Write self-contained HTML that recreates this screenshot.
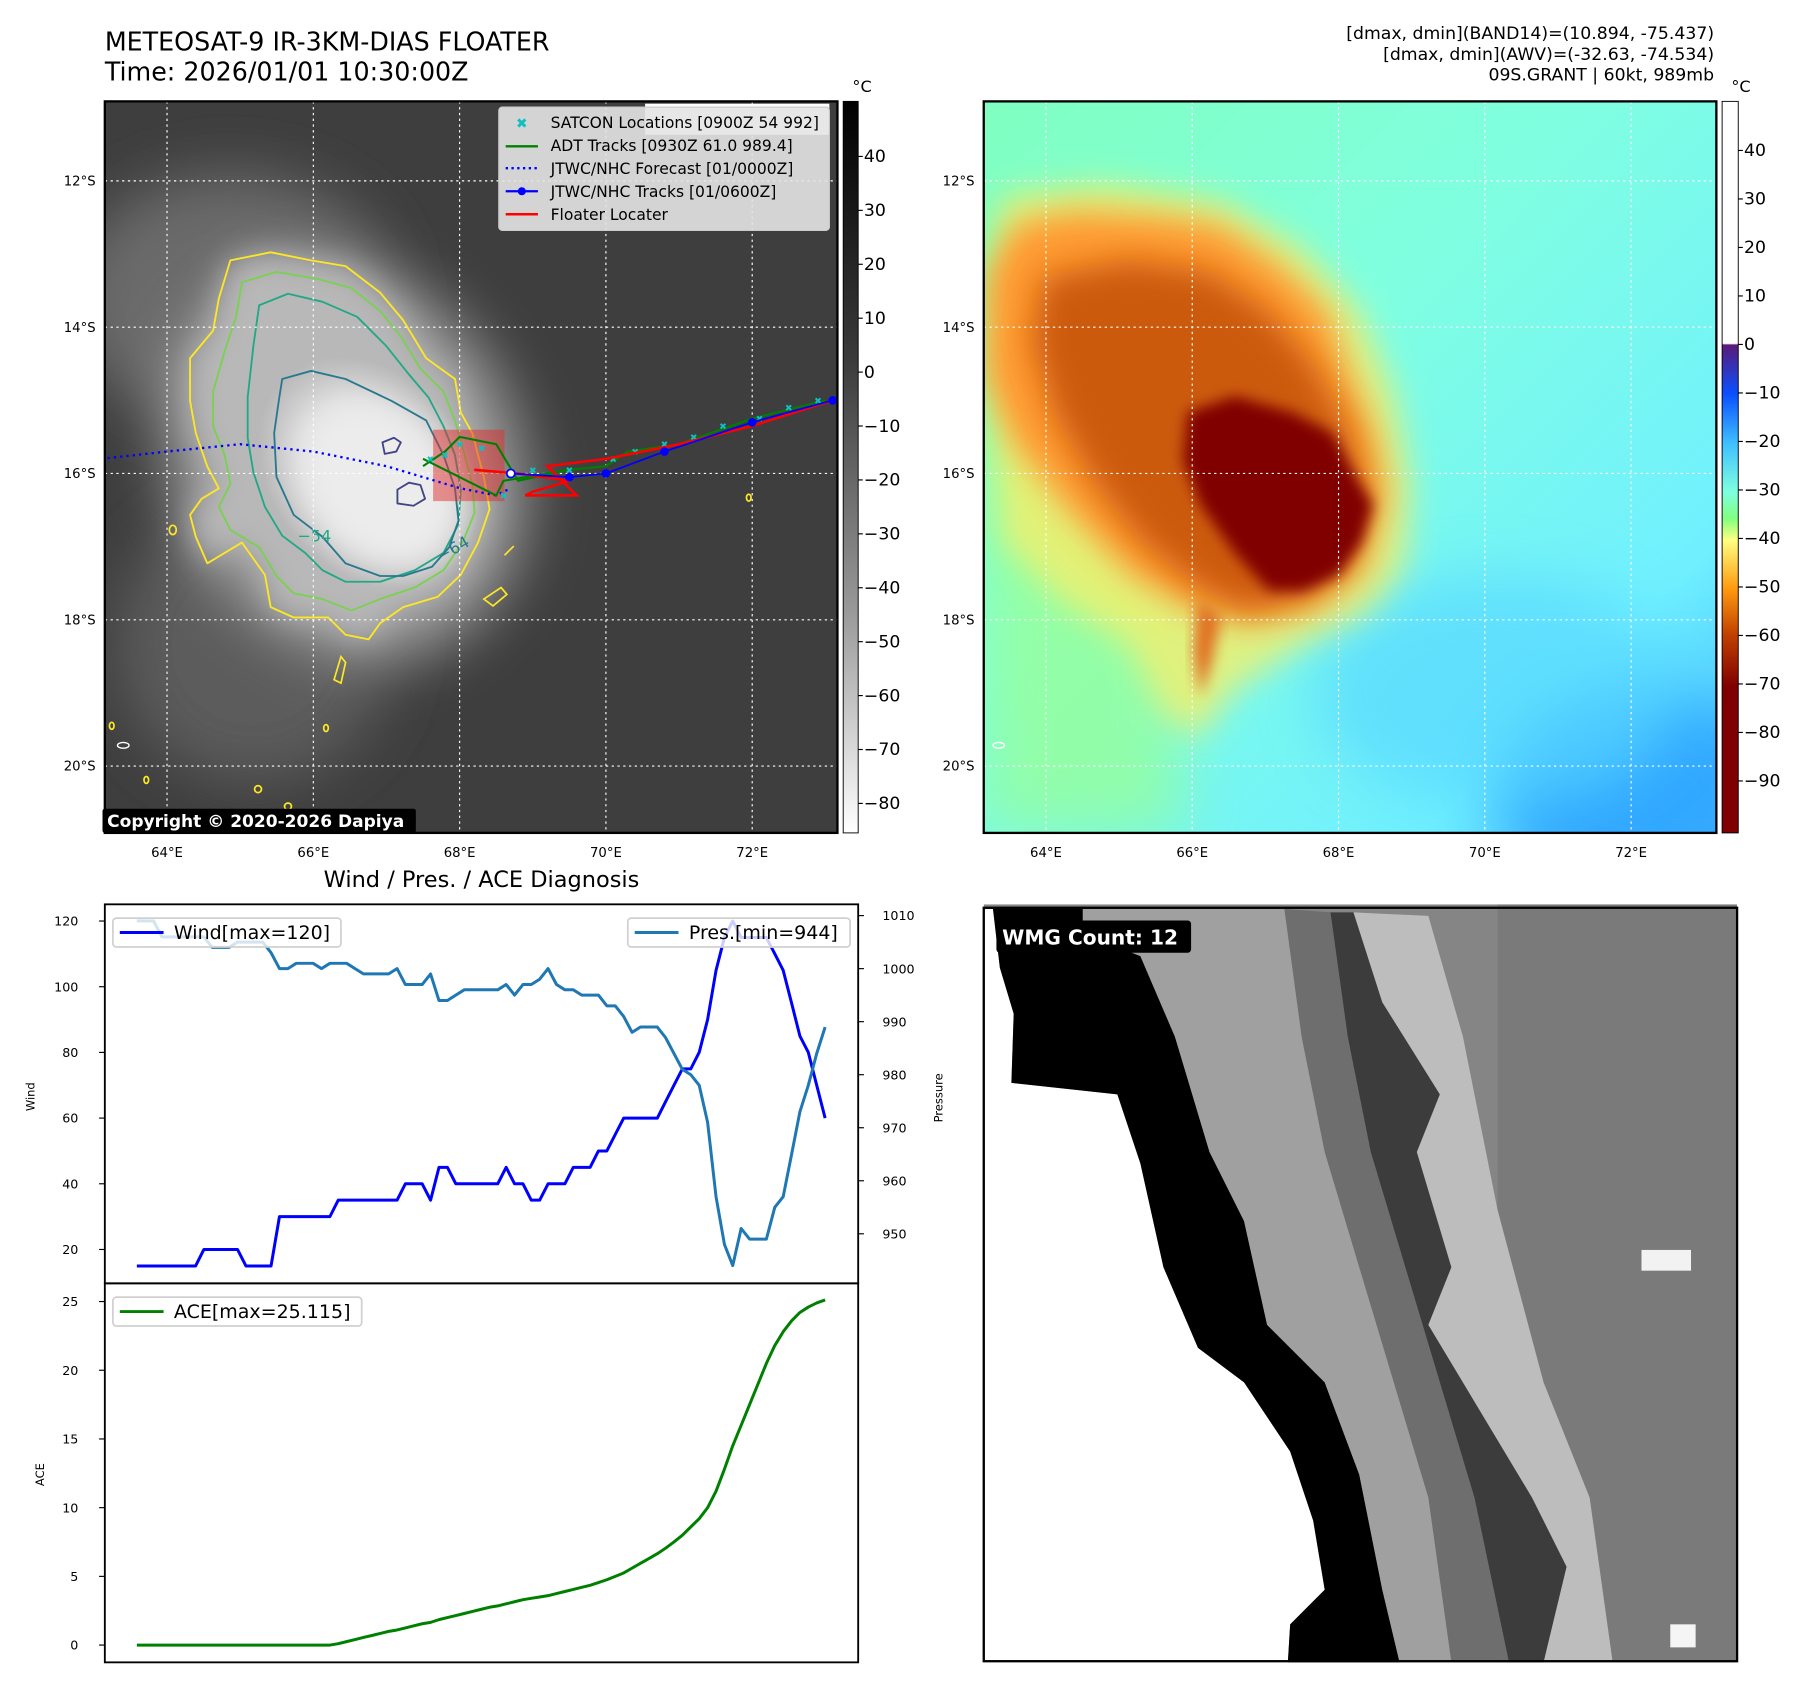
<!DOCTYPE html>
<html><head><meta charset="utf-8">
<style>
html,body{margin:0;padding:0;background:#fff;}
svg{display:block;font-family:"DejaVu Sans","Liberation Sans",sans-serif;}
</style></head>
<body>
<svg id="root" width="1797" height="1690" viewBox="0 0 1560 1467" preserveAspectRatio="none" xmlns="http://www.w3.org/2000/svg">
<defs>
<filter id="blur6" x="-30%" y="-30%" width="160%" height="160%"><feGaussianBlur stdDeviation="6"/></filter>
<filter id="blur14" x="-30%" y="-30%" width="160%" height="160%"><feGaussianBlur stdDeviation="14"/></filter>
<filter id="blur25" x="-50%" y="-50%" width="200%" height="200%"><feGaussianBlur stdDeviation="25"/></filter>
<clipPath id="clip1"><rect x="91" y="88" width="636" height="635"/></clipPath>
<clipPath id="clip2"><rect x="854" y="88" width="636" height="635"/></clipPath>
<clipPath id="clip3"><rect x="854" y="785" width="654" height="658"/></clipPath>
<linearGradient id="cbGray" x1="0" y1="0" x2="0" y2="1">
<stop offset="0" stop-color="#000"/><stop offset="0.35" stop-color="#3a3a3a"/><stop offset="0.7" stop-color="#9a9a9a"/><stop offset="1" stop-color="#fff"/>
</linearGradient>
<linearGradient id="cbColor" x1="0" y1="0" x2="0" y2="1">
<stop offset="0" stop-color="#fff"/><stop offset="0.331" stop-color="#fff"/>
<stop offset="0.333" stop-color="#5a1a7a"/><stop offset="0.40" stop-color="#0a50ff"/>
<stop offset="0.468" stop-color="#40c0ff"/><stop offset="0.534" stop-color="#7fffe0"/>
<stop offset="0.57" stop-color="#80ff80"/><stop offset="0.60" stop-color="#ffff80"/>
<stop offset="0.666" stop-color="#ff9a10"/><stop offset="0.73" stop-color="#c04000"/>
<stop offset="0.80" stop-color="#800000"/><stop offset="1" stop-color="#800000"/>
</linearGradient>
<linearGradient id="bg2" x1="0" y1="0" x2="1" y2="1">
<stop offset="0" stop-color="#80ffc0"/><stop offset="0.4" stop-color="#80ffe0"/><stop offset="0.8" stop-color="#70f0ff"/><stop offset="1" stop-color="#40b8ff"/>
</linearGradient>
<radialGradient id="core1" cx="0.5" cy="0.5" r="0.5">
<stop offset="0" stop-color="#f2f2f2"/><stop offset="0.6" stop-color="#dcdcdc"/><stop offset="1" stop-color="#dcdcdc" stop-opacity="0"/>
</radialGradient>
</defs>

<!-- Titles -->
<text x="91" y="44" font-size="22" fill="#000">METEOSAT-9 IR-3KM-DIAS FLOATER</text>
<text x="91" y="70" font-size="22" fill="#000">Time: 2026/01/01 10:30:00Z</text>
<g font-size="15" text-anchor="end" fill="#000">
<text x="1488" y="34">[dmax, dmin](BAND14)=(10.894, -75.437)</text>
<text x="1488" y="52">[dmax, dmin](AWV)=(-32.63, -74.534)</text>
<text x="1488" y="70">09S.GRANT | 60kt, 989mb</text>
</g>

<!-- MAP 1 -->
<g clip-path="url(#clip1)">
<rect x="91" y="88" width="636" height="635" fill="#3e3e3e"/>
<ellipse cx="200" cy="260" rx="140" ry="110" fill="#6a6a6a" filter="url(#blur25)"/>
<ellipse cx="220" cy="560" rx="120" ry="120" fill="#5c5c5c" filter="url(#blur25)"/>
<ellipse cx="300" cy="400" rx="150" ry="180" fill="#9a9a9a" filter="url(#blur25)" transform="rotate(-30 300 400)"/>
<path d="M200,226 L235,219 270,226 300,231 330,254 350,278 370,311 395,329 400,358 410,376 420,414 425,442 415,471 400,499 380,518 350,527 330,541 320,555 300,551 285,536 255,536 235,527 230,499 210,471 180,489 170,466 165,447 175,433 190,424 180,405 170,376 165,348 165,311 185,287 190,259Z" fill="#b8b8b8" filter="url(#blur14)"/>
<ellipse cx="320" cy="410" rx="85" ry="110" fill="url(#core1)" transform="rotate(-40 320 410)"/>
<ellipse cx="330" cy="420" rx="60" ry="80" fill="#ececec" filter="url(#blur14)" transform="rotate(-40 330 420)"/>
<g fill="none" stroke-width="1.6" stroke-linejoin="round">
<path d="M200,226 L235,219 270,226 300,231 330,254 350,278 370,311 395,329 400,358 410,376 420,414 425,442 415,471 400,499 380,518 350,527 330,541 320,555 300,551 285,536 255,536 235,527 230,499 210,471 180,489 170,466 165,447 175,433 190,424 180,405 170,376 165,348 165,311 185,287 190,259Z" stroke="#fde725"/>
<path d="M210,245 L240,236 275,242 305,250 330,270 348,292 365,320 385,340 395,365 402,390 410,420 412,445 402,470 385,495 360,510 330,520 305,530 280,520 255,515 240,500 225,475 200,460 190,440 200,420 195,395 185,370 185,340 195,305 205,275Z" stroke="#7ad151"/>
<path d="M225,265 L250,255 280,262 310,275 335,300 355,325 372,345 385,370 395,395 400,425 398,455 385,480 360,495 330,505 300,505 280,495 265,480 245,465 230,440 220,410 215,380 215,345 220,300Z" stroke="#22a884"/>
<path d="M245,329 L270,322 300,329 340,348 370,365 385,395 395,424 398,452 390,475 375,492 350,500 330,500 300,489 280,466 255,447 240,414 238,376 242,348Z" stroke="#2a788e"/>
<path d="M332,384 l10,-4 6,4 -4,8 -10,2Z M345,425 l10,-6 10,2 4,12 -10,6 -14,-2Z" stroke="#414487"/>
</g>
<text x="258" y="470" font-size="14" fill="#22a884">−54</text>
<text x="383" y="488" font-size="14" fill="#2a788e" transform="rotate(-30 383 488)">−64</text>
<g fill="none" stroke="#fde725" stroke-width="1.5">
<ellipse cx="150" cy="460" rx="3" ry="4"/><ellipse cx="283" cy="632" rx="2" ry="3"/><ellipse cx="224" cy="685" rx="3" ry="3"/>
<ellipse cx="250" cy="700" rx="3" ry="3"/><ellipse cx="127" cy="677" rx="2" ry="3"/><ellipse cx="97" cy="630" rx="2" ry="3"/>
<path d="M420,520 l15,-10 5,6 -12,10Z M438,482 l8,-8"/><ellipse cx="650" cy="432" rx="2" ry="3"/>
<path d="M290,590 l6,-20 4,5 -4,18Z"/>
</g>
<ellipse cx="107" cy="647" rx="5" ry="2.5" fill="none" stroke="#fff" stroke-width="1.2"/>
<g stroke="#fff" stroke-width="1" stroke-dasharray="2,3" id="grid1"></g>
<rect x="376" y="373" width="62" height="62" fill="#e03030" fill-opacity="0.5"/>
<g id="tracks1"></g>
<rect x="560" y="90" width="160" height="27" fill="#fff"/>
<g>
<rect x="433" y="93" width="287" height="107" rx="3" fill="#e4e4e4" fill-opacity="0.9" stroke="#ccc"/>
<g font-size="13.5" fill="#000">
<text x="478" y="111">SATCON Locations [0900Z 54 992]</text>
<text x="478" y="131">ADT Tracks [0930Z 61.0 989.4]</text>
<text x="478" y="151">JTWC/NHC Forecast [01/0000Z]</text>
<text x="478" y="171">JTWC/NHC Tracks [01/0600Z]</text>
<text x="478" y="191">Floater Locater</text>
</g>
<text x="453" y="111" font-size="12" font-weight="bold" fill="#10c0c0" text-anchor="middle">✖</text>
<line x1="439" y1="127" x2="467" y2="127" stroke="#008000" stroke-width="2"/>
<line x1="439" y1="146" x2="467" y2="146" stroke="#0000ff" stroke-width="2" stroke-dasharray="2,3"/>
<line x1="439" y1="166" x2="467" y2="166" stroke="#0000ff" stroke-width="2"/><circle cx="453" cy="166" r="3.5" fill="#0000ff"/>
<line x1="439" y1="186" x2="467" y2="186" stroke="#ff0000" stroke-width="2.2"/>
</g>
</g>
<rect x="91" y="88" width="636" height="635" fill="none" stroke="#000" stroke-width="2"/>
<g>
<rect x="89" y="702" width="272" height="21" rx="2" fill="#000"/>
<text x="93" y="718" font-size="14.8" font-weight="bold" fill="#fff">Copyright © 2020-2026 Dapiya</text>
</g>
<rect x="732" y="88" width="13" height="635" fill="url(#cbGray)" stroke="#000" stroke-width="0.8"/>
<text x="740" y="80" font-size="14">°C</text>
<g id="cb1ticks" font-size="15"></g>

<!-- MAP 2 -->
<g clip-path="url(#clip2)">
<rect x="854" y="88" width="636" height="635" fill="url(#bg2)"/>
<rect x="854" y="200" width="170" height="523" fill="#a0ff80" opacity="0.6" filter="url(#blur25)"/>
<ellipse cx="1420" cy="690" rx="120" ry="90" fill="#30a8ff" filter="url(#blur25)"/>
<ellipse cx="1300" cy="600" rx="160" ry="100" fill="#58d8ff" opacity="0.7" filter="url(#blur25)"/>
<path d="M870,170 L960,160 1060,175 1130,215 1180,270 1210,340 1225,420 1220,490 1190,530 1130,560 1070,600 1040,640 1010,620 980,560 920,520 870,470 856,300Z" fill="#f0f070" opacity="0.85" filter="url(#blur14)"/>
<path d="M881,195 L931,184 1007,188 1057,195 1107,228 1152,270 1172,329 1192,376 1202,433 1182,494 1142,527 1082,541 1032,527 982,499 931,447 881,386 856,329 856,240Z" fill="#ff9a30" filter="url(#blur14)"/>
<path d="M905,240 L980,225 1050,235 1100,268 1140,315 1170,370 1185,430 1170,490 1130,520 1080,530 1040,510 990,470 950,420 915,360 895,295Z" fill="#cc5a10" filter="url(#blur14)"/>
<path d="M1031,358 L1072,344 1122,358 1157,376 1177,414 1192,438 1182,471 1162,499 1132,513 1102,513 1072,480 1042,438 1027,400Z" fill="#800000" filter="url(#blur6)"/>
<path d="M1040,520 l20,15 -8,40 -10,30 -6,-40Z" fill="#e07020" filter="url(#blur6)"/>
<ellipse cx="867" cy="647" rx="5" ry="2.5" fill="none" stroke="#fff" stroke-width="1.2"/>
<g stroke="#fff" stroke-width="1" stroke-dasharray="2,3" id="grid2"></g>
</g>
<rect x="854" y="88" width="636" height="635" fill="none" stroke="#000" stroke-width="2"/>
<rect x="1495" y="88" width="14" height="635" fill="url(#cbColor)" stroke="#000" stroke-width="0.8"/>
<text x="1503" y="80" font-size="14">°C</text>
<g id="cb2ticks" font-size="15"></g>

<!-- CHART -->
<text x="418" y="770" font-size="19.5" text-anchor="middle">Wind / Pres. / ACE Diagnosis</text>
<g id="chart"></g>

<!-- WMG panel -->
<g clip-path="url(#clip3)">
<rect x="854" y="785" width="654" height="658" fill="#858585"/>
<rect x="1300" y="785" width="208" height="658" fill="#7a7a7a"/>
<path d="M855,789 L862,789 868,840 880,880 878,940 970,950 990,1010 1010,1100 1040,1170 1080,1200 1120,1260 1140,1320 1150,1380 1120,1410 1118,1443 855,1443Z" fill="#fff"/>
<path d="M862,789 L940,789 940,810 990,830 1020,900 1050,1000 1080,1060 1100,1150 1150,1200 1180,1280 1200,1380 1215,1443 1118,1443 1120,1410 1150,1380 1140,1320 1120,1260 1080,1200 1040,1170 1010,1100 990,1010 970,950 878,940 880,880 868,840Z" fill="#000"/>
<path d="M940,789 L1115,789 1130,900 1150,1000 1180,1100 1210,1200 1240,1300 1260,1443 1215,1443 1200,1380 1180,1280 1150,1200 1100,1150 1080,1060 1050,1000 1020,900 990,830 940,810Z" fill="#a0a0a0"/>
<path d="M1115,789 L1155,792 1170,900 1190,1000 1220,1100 1250,1200 1280,1300 1310,1443 1260,1443 1240,1300 1210,1200 1180,1100 1150,1000 1130,900Z" fill="#6e6e6e"/>
<path d="M1155,792 L1175,792 1200,870 1250,950 1230,1000 1260,1100 1240,1150 1270,1200 1330,1300 1360,1360 1340,1443 1310,1443 1280,1300 1250,1200 1220,1100 1190,1000 1170,900Z" fill="#3c3c3c"/>
<path d="M1175,792 L1240,795 1270,900 1300,1050 1340,1200 1380,1300 1400,1443 1340,1443 1360,1360 1330,1300 1270,1200 1240,1150 1260,1100 1230,1000 1250,950 1200,870Z" fill="#bdbdbd"/>
<rect x="1425" y="1085" width="43" height="18" fill="#f2f2f2"/>
<rect x="1450" y="1410" width="22" height="20" fill="#f5f5f5"/>
</g>
<rect x="854" y="788" width="654" height="654" fill="none" stroke="#000" stroke-width="2"/>
<g>
<rect x="865" y="799" width="169" height="28" rx="3" fill="#000"/>
<text x="870" y="820" font-size="17.5" font-weight="bold" fill="#fff">WMG Count: 12</text>
</g>

<script>
// ===== Chart data =====
const windVals = [15,15,15,15,15,15,15,15,20,20,20,20,20,15,15,15,15,30,30,30,30,30,30,30,35,35,35,35,35,35,35,35,40,40,40,35,45,45,40,40,40,40,40,40,45,40,40,35,35,40,40,40,45,45,45,50,50,55,60,60,60,60,60,65,70,75,75,80,90,105,115,120,115,115,115,115,110,105,95,85,80,70,60];
const presVals = [1009,1009,1009,1006,1006,1006,1006,1006,1006,1004,1004,1004,1005,1005,1005,1005,1003,1000,1000,1001,1001,1001,1000,1001,1001,1001,1000,999,999,999,999,1000,997,997,997,999,994,994,995,996,996,996,996,996,997,995,997,997,998,1000,997,996,996,995,995,995,993,993,991,988,989,989,989,987,984,981,980,978,971,957,948,944,951,949,949,949,955,957,965,973,978,984,989];
const aceVals = [0,0,0,0,0,0,0,0,0,0,0,0,0,0,0,0,0,0,0,0,0,0,0,0,0.1,0.25,0.4,0.55,0.7,0.85,1.0,1.1,1.25,1.4,1.55,1.65,1.85,2.0,2.15,2.3,2.45,2.6,2.75,2.85,3.0,3.15,3.3,3.4,3.5,3.6,3.75,3.9,4.05,4.2,4.35,4.55,4.75,5.0,5.25,5.6,5.95,6.3,6.65,7.05,7.5,8.0,8.6,9.2,10.0,11.2,12.8,14.5,16.0,17.5,19.0,20.5,21.8,22.8,23.6,24.2,24.6,24.9,25.115];
const windTicks = [20,40,60,80,100,120];
const presTicks = [950,960,970,980,990,1000,1010];
const aceTicks = [0,5,10,15,20,25];
const cb1Ticks = [40,30,20,10,0,-10,-20,-30,-40,-50,-60,-70,-80];
const cb2Ticks = [40,30,20,10,0,-10,-20,-30,-40,-50,-60,-70,-80,-90];
const lonTicks = [64,66,68,70,72];
const latTicks = [12,14,16,18,20];
// tracks [lon, latS]
const fcstTrack = [[63.1,15.8],[64,15.7],[65,15.6],[66,15.7],[67,15.9],[68,16.2],[68.5,16.3],[68.7,16.2]];
const bestTrack = [[68.7,16.0],[69.5,16.05],[70,16.0],[70.8,15.7],[72,15.3],[73.1,15.0]];
const floaterTrack = [[68.2,15.95],[68.8,16.0],[69.5,16.1],[69,16.25],[68.9,16.3],[69.6,16.3],[69.2,15.9],[70,15.8],[71,15.6],[72,15.35],[73.1,15.0]];
const adtTrack = [[67.5,15.9],[67.8,15.7],[68,15.5],[68.5,15.6],[68.8,16.1],[69.5,15.95],[70,15.9],[70.3,15.7],[71,15.6],[72,15.25],[73,15.0]];
const adtTrack2 = [[67.5,15.8],[68.5,16.3],[68.6,16.1],[69.5,15.95]];
const satconPts = [[67.6,15.8],[67.8,15.75],[68.0,15.6],[68.3,15.65],[68.6,16.3],[69.0,15.95],[69.5,15.95],[70.1,15.8],[70.4,15.7],[70.8,15.6],[71.2,15.5],[71.6,15.35],[72.1,15.25],[72.5,15.1],[72.9,15.0]];

const NS='http://www.w3.org/2000/svg';
function mk(tag, attrs, parent){const e=document.createElementNS(NS,tag);for(const k in attrs)e.setAttribute(k,attrs[k]);parent.appendChild(e);return e;}

// axis functions
const xIdx = i => 118.75 + i*(716.3-118.75)/(windVals.length-1);
const yWind = v => 1084.6 - (v-20)*(1084.6-799.5)/100;
const yPres = v => 1071 - (v-950)*(1071-794.8)/60;
const yAce = v => 1428 - v*(1428-1129.8)/25;
const lonX1 = lon => 145 + (lon-64)*63.5;
const lonX2 = lon => 908 + (lon-64)*63.5;
const latY = lat => 157 + (lat-12)*63.5;

// grids & map ticks
[['grid1',lonX1,91,727],['grid2',lonX2,854,1490]].forEach(([id,fx,x0,x1])=>{
  const g=document.getElementById(id);
  lonTicks.forEach(l=>{const ln=mk('line',{x1:fx(l),x2:fx(l),y1:88,y2:723},g);

});
  latTicks.forEach(l=>{const ln=mk('line',{x1:x0,x2:x1,y1:latY(l),y2:latY(l)},g);

});
});
const root=document.getElementById('root');
[[lonX1,91],[lonX2,854]].forEach(([fx,x0])=>{
  lonTicks.forEach(l=>{const t=mk('text',{x:fx(l),y:744,'font-size':11.5,'text-anchor':'middle'},root);t.textContent=l+'°E';

});
  latTicks.forEach(l=>{const t=mk('text',{x:x0-8,y:latY(l)+4,'font-size':11.5,'text-anchor':'end'},root);t.textContent=l+'°S';

});
});
// colorbar ticks
const cb1=document.getElementById('cb1ticks');
cb1Ticks.forEach(v=>{const y=323-(v*4.68);mk('line',{x1:745,x2:749,y1:y,y2:y,stroke:'#000'},cb1);const t=mk('text',{x:750,y:y+5},cb1);t.textContent=(v<0?'−'+(-v):v);

});
const cb2=document.getElementById('cb2ticks');
cb2Ticks.forEach(v=>{const y=299-(v*4.21);mk('line',{x1:1509,x2:1513,y1:y,y2:y,stroke:'#000'},cb2);const t=mk('text',{x:1514,y:y+5},cb2);t.textContent=(v<0?'−'+(-v):v);

});

// tracks
const tg=document.getElementById('tracks1');
const pts = arr => arr.map(p=>lonX1(p[0])+','+latY(p[1])).join(' ');
let e;
e=mk('polyline',{points:pts(fcstTrack),fill:'none',stroke:'#0000ff','stroke-width':2,'stroke-dasharray':'2,3.5'},tg);


e=mk('polyline',{points:pts(adtTrack),fill:'none',stroke:'#008000','stroke-width':1.8},tg);


e=mk('polyline',{points:pts(adtTrack2),fill:'none',stroke:'#008000','stroke-width':1.8},tg);


satconPts.forEach(p=>{const t=mk('text',{x:lonX1(p[0]),y:latY(p[1])+3,'font-size':8,'font-weight':'bold',fill:'#10c0c0','text-anchor':'middle'},tg);t.textContent='✖';

});
e=mk('polyline',{points:pts(floaterTrack),fill:'none',stroke:'#ff0000','stroke-width':2.2},tg);


e=mk('polyline',{points:pts(bestTrack),fill:'none',stroke:'#0000ff','stroke-width':1.5},tg);


bestTrack.forEach((p,i)=>{const c=mk('circle',{cx:lonX1(p[0]),cy:latY(p[1]),r:i==0?3.5:3,fill:i==0?'#fff':'#0000ff',stroke:'#0000ff','stroke-width':1.5},tg);

});

// chart
const cg=document.getElementById('chart');
const lp = (vals,fy) => vals.map((v,i)=>xIdx(i).toFixed(1)+','+fy(v).toFixed(1)).join(' ');
e=mk('polyline',{points:lp(windVals,yWind),fill:'none',stroke:'#0000ff','stroke-width':2.6,'stroke-linejoin':'round'},cg);


e=mk('polyline',{points:lp(presVals,yPres),fill:'none',stroke:'#1f77b4','stroke-width':2.6,'stroke-linejoin':'round'},cg);


e=mk('polyline',{points:lp(aceVals,yAce),fill:'none',stroke:'#008000','stroke-width':2.6,'stroke-linejoin':'round'},cg);


e=mk('rect',{x:91,y:785,width:654,height:329,fill:'none',stroke:'#000','stroke-width':1.6},cg);


e=mk('rect',{x:91,y:1114,width:654,height:329,fill:'none',stroke:'#000','stroke-width':1.6},cg);


windTicks.forEach(v=>{const y=yWind(v);mk('line',{x1:86,x2:91,y1:y,y2:y,stroke:'#000'},cg);const t=mk('text',{x:68,y:y+4,'font-size':11,'text-anchor':'end'},cg);t.textContent=v;

});
presTicks.forEach(v=>{const y=yPres(v);mk('line',{x1:745,x2:750,y1:y,y2:y,stroke:'#000'},cg);const t=mk('text',{x:766,y:y+4,'font-size':11},cg);t.textContent=v;

});
aceTicks.forEach(v=>{const y=yAce(v);mk('line',{x1:86,x2:91,y1:y,y2:y,stroke:'#000'},cg);const t=mk('text',{x:68,y:y+4,'font-size':11,'text-anchor':'end'},cg);t.textContent=v;

});
e=mk('text',{x:30,y:952,'font-size':10,'text-anchor':'middle',transform:'rotate(-90 30 952)'},cg);e.textContent='Wind';


e=mk('text',{x:818,y:953,'font-size':10,'text-anchor':'middle',transform:'rotate(-90 818 953)'},cg);e.textContent='Pressure';


e=mk('text',{x:38,y:1280,'font-size':10,'text-anchor':'middle',transform:'rotate(-90 38 1280)'},cg);e.textContent='ACE';


// legends
function legend(x,y,w,color,label,name){const g=mk('g',{},cg);


mk('rect',{x:x,y:y,width:w,height:25,rx:3,fill:'#fff','fill-opacity':0.8,stroke:'#d0d0d0','stroke-width':1.5},g);
mk('line',{x1:x+6,x2:x+44,y1:y+12.5,y2:y+12.5,stroke:color,'stroke-width':2.6},g);
const t=mk('text',{x:x+53,y:y+18,'font-size':16.5},g);t.textContent=label;}
legend(98,797,198,'#0000ff','Wind[max=120]','wind-legend');
legend(545,797,193,'#1f77b4','Pres.[min=944]','pressure-legend');
legend(98,1126,216,'#008000','ACE[max=25.115]','ace-legend');
</script>
</svg>
</body></html>
